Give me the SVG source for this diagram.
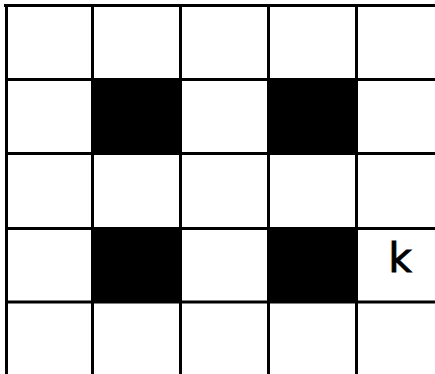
<svg xmlns="http://www.w3.org/2000/svg" width="435" height="374" viewBox="0 0 435 374">
<style>
.cell{fill:#000;}
.grid line{stroke:#000;stroke-width:3;}
.lbl{font-family:"DejaVu Sans",sans-serif;font-size:40px;fill:#000;stroke:#000;stroke-width:1;}
</style>
<rect width="435" height="374" fill="#fff"/>
<g id="cells">
<rect id="c22" class="cell" x="92.5" y="79.5" width="88" height="74"/>
<rect id="c24" class="cell" x="268.5" y="79.5" width="88" height="74"/>
<rect id="c42" class="cell" x="92.5" y="228.5" width="88" height="73.5"/>
<rect id="c44" class="cell" x="268.5" y="228.5" width="88" height="73.5"/>
</g>
<g id="grid" class="grid">
<line x1="4" y1="5.5" x2="435" y2="5.5"/>
<line x1="5" y1="79.5" x2="435" y2="79.5"/>
<line x1="5" y1="153.5" x2="435" y2="153.5"/>
<line x1="5" y1="228.5" x2="435" y2="228.5"/>
<line x1="5" y1="302" x2="435" y2="302"/>
<line x1="6.5" y1="4" x2="6.5" y2="374"/>
<line x1="92.5" y1="4" x2="92.5" y2="374"/>
<line x1="180.5" y1="4" x2="180.5" y2="374"/>
<line x1="268.5" y1="4" x2="268.5" y2="374"/>
<line x1="356.5" y1="4" x2="356.5" y2="374"/>
</g>
<g id="label-k"><text class="lbl" x="400" y="272" text-anchor="middle">k</text></g>
</svg>
